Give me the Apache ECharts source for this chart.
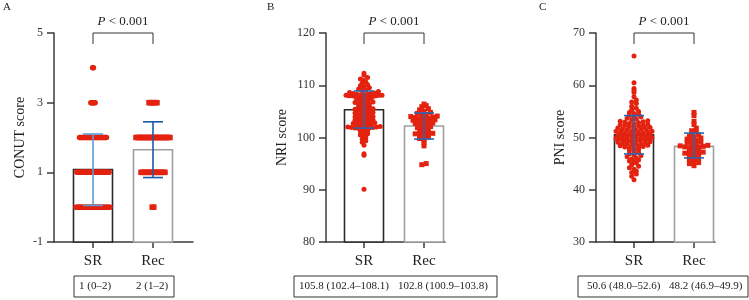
<!DOCTYPE html>
<html>
<head>
<meta charset="utf-8">
<title>CONUT / NRI / PNI by group</title>
<script src="https://cdn.jsdelivr.net/npm/echarts@6/dist/echarts.min.js"></script>
<style>
  html, body { margin: 0; padding: 0; background: #fff; }
  #chart { width: 749px; height: 300px; }
</style>
</head>
<body>
<div id="chart"></div>
<script>
const groups = ['SR', 'Rec'];

// A - CONUT score, integer levels so counts per level
const conutLevels = [0, 1, 2, 3, 4];
const conutSRCounts = [40, 38, 32, 6, 2];
const conutRecCounts = [2, 16, 23, 6, 0];
const conutMean = [1.08, 1.65];
const conutErr = [[0.05, 2.1], [0.85, 2.45]];
const conutSummary = ['1 (0–2)', '2 (1–2)'];

// B - NRI score
const nriSR = [
  112.3, 111.9, 111.5, 111.2, 110.9, 110.6, 110.4, 110.1, 109.9, 109.7, 109.5, 109.3, 109.1, 109.0, 108.8,
  108.6, 108.5, 108.4, 108.4, 108.3, 108.3, 108.2, 108.2, 108.1, 108.1, 108.1, 108.0, 108.0, 108.0, 107.9,
  107.9, 107.9, 107.8, 107.8, 107.7, 107.7, 107.6,
  107.4, 107.3, 107.2, 107.0, 106.9, 106.8, 106.7, 106.5, 106.4, 106.3, 106.2, 106.0, 105.9, 105.8,
  105.6, 105.5, 105.4, 105.3, 105.2, 105.0, 104.9, 104.8, 104.7, 104.5, 104.4, 104.3, 104.2, 104.0,
  103.9, 103.8, 103.7, 103.6, 103.5, 103.4, 103.3, 103.2, 103.1, 103.0, 102.9, 102.8, 102.7, 102.6,
  102.5, 102.4, 102.3, 102.2, 102.1, 102.0, 102.0, 101.9, 101.9, 101.8, 101.8, 101.7, 101.6, 101.5,
  101.3, 101.1, 100.9, 100.7, 100.5, 100.3, 100.0, 99.7, 99.4, 99.1,
  98.5, 96.9, 96.6, 90.1
];
const nriRec = [
  106.4, 106.1, 105.9, 105.5, 105.3, 105.0, 104.8, 104.6, 104.4, 104.3, 104.1, 104.0, 103.9, 103.8,
  103.7, 103.6, 103.5, 103.4, 103.3, 103.2, 103.1, 103.0, 102.9, 102.8, 102.7, 102.6, 102.4, 102.3,
  102.1, 101.9, 101.7, 101.5, 101.3, 101.1, 100.9, 100.8, 100.7, 100.6, 100.5, 100.3, 100.1, 99.8,
  99.5, 99.0, 98.4, 95.0, 94.8
];
const nriMean = [105.3, 102.2];
const nriErr = [[101.8, 108.9], [99.7, 104.7]];
const nriSummary = ['105.8 (102.4–108.1)', '102.8 (100.9–103.8)'];

// C - PNI score
const pniSR = [
  65.6, 60.5, 59.4, 59.0, 58.6, 57.8, 57.2, 56.8, 56.5, 56.0, 55.6, 55.3, 55.0, 54.8, 54.6, 54.4, 54.2, 54.0, 53.9, 53.7,
  53.5, 53.4, 53.2, 53.1, 53.0, 52.9, 52.8, 52.7, 52.6, 52.5, 52.4, 52.3, 52.3, 52.2, 52.1, 52.0,
  51.9, 51.8, 51.7, 51.6, 51.6, 51.5, 51.4, 51.3, 51.2, 51.2, 51.1, 51.0, 50.9, 50.8, 50.8, 50.7, 50.6,
  50.5, 50.4, 50.3, 50.3, 50.2, 50.1, 50.1, 50.0,
  49.9, 49.8, 49.7, 49.7, 49.6, 49.5, 49.5, 49.4, 49.3, 49.3, 49.2, 49.1, 49.0, 48.9, 48.8, 48.8, 48.7,
  48.6, 48.5, 48.4, 48.3, 48.2, 48.1, 48.0,
  47.9, 47.7, 47.5, 47.3, 47.1, 46.9, 46.7, 46.5, 46.3, 46.1, 45.9, 45.7, 45.5, 45.3, 45.1,
  44.8, 44.5, 44.2, 43.9, 43.6, 43.3, 43.0, 42.6, 41.9
];
const pniRec = [
  54.8, 54.2, 53.1, 52.5, 51.8, 51.3, 51.0, 50.7, 50.5, 50.2, 50.0, 49.9, 49.7, 49.5, 49.3, 49.1,
  49.0, 48.8, 48.7, 48.5, 48.4, 48.3, 48.2, 48.1, 48.0, 47.9, 47.7, 47.6, 47.4, 47.2, 47.0, 46.9,
  46.8, 46.6, 46.4, 46.2, 46.0, 45.8, 45.6, 45.4, 45.2, 45.0, 44.6
];
const pniMean = [50.5, 48.3];
const pniErr = [[46.85, 54.2], [46.1, 50.85]];
const pniSummary = ['50.6 (48.0–52.6)', '48.2 (46.9–49.9)'];

const SERIF = '"Liberation Serif", "DejaVu Serif", serif';
const RED = '#e3220f';
const GRID_TOP = 33;
const GRID_H = 209;
const CAT_GAP = 60; // px between SR and Rec

function expandCounts(levels, counts) {
  const out = [];
  levels.forEach((lv, i) => { for (let k = 0; k < counts[i]; k++) out.push(lv); });
  return out;
}

// scatter-dot layout: points in the same row are spread sideways
function swarm(values, center, pxPerUnit, binPx, stepPx, maxPx) {
  const bins = {};
  values.forEach((v) => {
    const k = Math.round((v * pxPerUnit) / binPx);
    (bins[k] = bins[k] || []).push(v);
  });
  const out = [];
  Object.keys(bins).forEach((k) => {
    const list = bins[k].slice().sort((a, b) => a - b);
    const n = list.length;
    const step = n > 1 ? Math.min(stepPx, maxPx / (n - 1)) : 0;
    // alternate left/right from centre
    const slots = [];
    for (let i = 0; i < n; i++) slots.push((i - (n - 1) / 2) * step);
    slots.sort((a, b) => Math.abs(a) - Math.abs(b));
    list.forEach((v, i) => out.push([center + slots[i] / CAT_GAP, v]));
  });
  return out;
}

const panels = [
  {
    label: 'A', name: 'CONUT score', yMin: -1, yMax: 5, yInt: 2,
    left: 54, width: 139, nameGap: 27, dot: 5.5,
    sr: expandCounts(conutLevels, conutSRCounts), rec: expandCounts(conutLevels, conutRecCounts),
    swarmSR: [1, 0.87, 34], swarmRec: [1, 1.6, 34],
    mean: conutMean, err: conutErr, errColor: ['#5b9bd5', '#1d5aa6'],
    box: [74, 174], textX: [79, 136], summary: conutSummary, letterX: 3
  },
  {
    label: 'B', name: 'NRI score', yMin: 80, yMax: 120, yInt: 10,
    left: 326, width: 119, nameGap: 37, dot: 5,
    sr: nriSR, rec: nriRec,
    swarmSR: [3.5, 3.6, 36], swarmRec: [3.5, 4.4, 34],
    mean: nriMean, err: nriErr, errColor: ['#2a67b1', '#2a67b1'],
    box: [294, 497], textX: [299, 398], summary: nriSummary, letterX: 267
  },
  {
    label: 'C', name: 'PNI score', yMin: 30, yMax: 70, yInt: 10,
    left: 596, width: 119, nameGap: 29, dot: 5,
    sr: pniSR, rec: pniRec,
    swarmSR: [3.5, 4.6, 36], swarmRec: [3.5, 4.6, 34],
    mean: pniMean, err: pniErr, errColor: ['#2a67b1', '#2a67b1'],
    box: [578, 748], textX: [587, 669], summary: pniSummary, letterX: 539
  }
];

const grid = [], xAxis = [], yAxis = [], series = [], graphic = [];

panels.forEach((p, gi) => {
  const pxPerUnit = GRID_H / (p.yMax - p.yMin);
  const srOffset = gi === 0 ? 39 : 38;
  grid.push({ left: p.left, top: GRID_TOP, width: p.width, height: GRID_H });
  xAxis.push({
    gridIndex: gi, type: 'value',
    min: -srOffset / CAT_GAP, max: (p.width - srOffset) / CAT_GAP,
    splitLine: { show: false },
    axisLine: { onZero: false, lineStyle: { color: '#3a3a3a', width: 1.5 } },
    axisTick: { customValues: [0, 1], length: 6, lineStyle: { color: '#3a3a3a', width: 1.5 } },
    axisLabel: {
      customValues: [0, 1], formatter: (v) => groups[Math.round(v)],
      fontFamily: SERIF, fontSize: 15, color: '#222', margin: 12
    }
  });
  yAxis.push({
    gridIndex: gi, type: 'value', min: p.yMin, max: p.yMax, interval: p.yInt,
    name: p.name, nameLocation: 'middle', nameGap: p.nameGap,
    nameTextStyle: { fontFamily: SERIF, fontSize: 14, color: '#222' },
    splitLine: { show: false },
    axisLine: { show: true, onZero: false, lineStyle: { color: '#3a3a3a', width: 1.5 } },
    axisTick: { show: true, length: 7, lineStyle: { color: '#3a3a3a', width: 1.5 } },
    axisLabel: { fontFamily: SERIF, fontSize: 12, color: '#333', margin: 11 }
  });

  // bars (start from the axis minimum)
  const barStroke = ['#2a2a2a', '#a0a0a0'];
  series.push({
    type: 'custom', xAxisIndex: gi, yAxisIndex: gi, z: 1,
    data: p.mean.map((m, i) => [i, m]),
    encode: { x: 0, y: 1 },
    renderItem: (params, api) => {
      const top = api.coord([api.value(0), api.value(1)]);
      const base = api.coord([api.value(0), p.yMin]);
      return {
        type: 'rect',
        shape: { x: top[0] - 19.5, y: top[1], width: 39, height: base[1] - top[1] },
        style: { fill: '#fff', stroke: barStroke[params.dataIndex], lineWidth: 1.6 }
      };
    }
  });

  // points
  series.push({
    type: 'scatter', xAxisIndex: gi, yAxisIndex: gi, z: 2,
    symbol: 'circle', symbolSize: p.dot,
    itemStyle: { color: RED, opacity: 1 },
    data: swarm(p.sr, 0, pxPerUnit, ...p.swarmSR)
  });
  series.push({
    type: 'scatter', xAxisIndex: gi, yAxisIndex: gi, z: 2,
    symbol: 'rect', symbolSize: p.dot,
    itemStyle: { color: RED, opacity: 1 },
    data: swarm(p.rec, 1, pxPerUnit, ...p.swarmRec)
  });

  // error bars
  series.push({
    type: 'custom', xAxisIndex: gi, yAxisIndex: gi, z: 3,
    data: p.err.map((e, i) => [i, e[0], e[1]]),
    encode: { x: 0, y: [1, 2] },
    renderItem: (params, api) => {
      const lo = api.coord([api.value(0), api.value(1)]);
      const hi = api.coord([api.value(0), api.value(2)]);
      const st = { stroke: p.errColor[params.dataIndex], lineWidth: 1.6 };
      return {
        type: 'group',
        children: [
          { type: 'line', shape: { x1: lo[0], y1: lo[1], x2: hi[0], y2: hi[1] }, style: st },
          { type: 'line', shape: { x1: lo[0] - 10, y1: lo[1], x2: lo[0] + 10, y2: lo[1] }, style: st },
          { type: 'line', shape: { x1: hi[0] - 10, y1: hi[1], x2: hi[0] + 10, y2: hi[1] }, style: st }
        ]
      };
    }
  });

  // significance bracket
  series.push({
    type: 'custom', xAxisIndex: gi, yAxisIndex: gi, z: 4, clip: false,
    data: [[0, 1]],
    encode: { x: [0, 1] },
    renderItem: (params, api) => {
      const a = api.coord([api.value(0), p.yMax]);
      const b = api.coord([api.value(1), p.yMax]);
      return {
        type: 'group',
        children: [
          {
            type: 'polyline',
            shape: { points: [[a[0], a[1] + 11], [a[0], a[1]], [b[0], b[1]], [b[0], b[1] + 11]] },
            style: { stroke: '#333', lineWidth: 1, fill: 'none' }
          },
          {
            type: 'text',
            style: {
              text: '{i|P} < 0.001', x: (a[0] + b[0]) / 2, y: a[1] - 11,
              align: 'center', verticalAlign: 'middle',
              fontFamily: SERIF, fontSize: 13, fill: '#222',
              rich: { i: { fontFamily: SERIF, fontSize: 13, fontStyle: 'italic', fill: '#222' } }
            }
          }
        ]
      };
    }
  });

  // panel letter
  graphic.push({
    type: 'text', x: p.letterX, y: 2,
    style: { text: p.label, fontFamily: SERIF, fontSize: 11, fill: '#222' }
  });
  // summary box under the axis
  graphic.push({
    type: 'rect',
    shape: { x: p.box[0], y: 276, width: p.box[1] - p.box[0], height: 21 },
    style: { fill: '#fff', stroke: '#333', lineWidth: 1 }
  });
  p.summary.forEach((s, i) => {
    graphic.push({
      type: 'text', x: p.textX[i], y: 286.5,
      style: { text: s, fontFamily: SERIF, fontSize: 11, fill: '#222', verticalAlign: 'middle' }
    });
  });
});

const chart = echarts.init(document.getElementById('chart'));
chart.setOption({
  backgroundColor: '#fff',
  animation: false,
  grid, xAxis, yAxis, series, graphic
});
</script>
</body>
</html>
